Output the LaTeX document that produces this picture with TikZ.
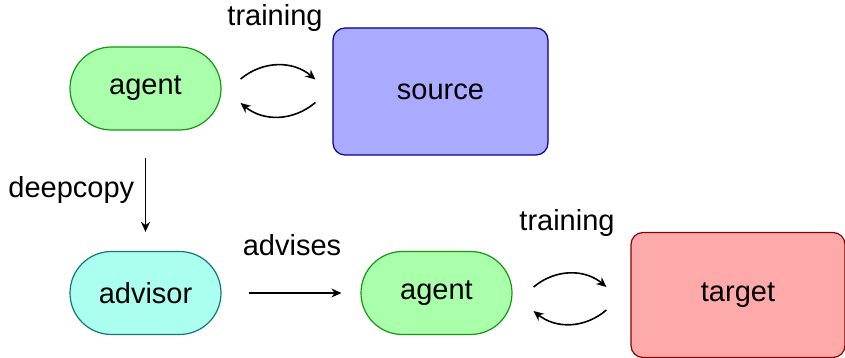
\documentclass[tikz,border=0pt]{standalone}
\usepackage{fontspec}
\setmainfont{Liberation Sans}
\usetikzlibrary{arrows.meta,calc}

\definecolor{agentfill}{HTML}{AAFFAA}
\definecolor{agentline}{HTML}{119911}
\definecolor{sourcefill}{HTML}{AAAAFF}
\definecolor{sourceline}{HTML}{000088}
\definecolor{advisorfill}{HTML}{AAFFEE}
\definecolor{advisorline}{HTML}{117777}
\definecolor{targetfill}{HTML}{FFAAAA}
\definecolor{targetline}{HTML}{880000}

\tikzset{
  pill/.style={rounded corners=20.75pt, minimum width=75.5pt, minimum height=41.5pt, line width=0.6pt},
  envbox/.style={rounded corners=6pt, line width=0.6pt},
  flow/.style={-{Stealth[length=5pt,width=4.5pt]}, line width=0.8pt, shorten <=13.5pt, shorten >=9.5pt},
  cyc/.style={-{Stealth[length=5pt,width=4.5pt]}, line width=0.8pt},
  every node/.style={font=\fontsize{14.5}{17}\selectfont}
}

\begin{document}
\begin{tikzpicture}[x=0.5pt, y=0.5pt]
  \useasboundingbox (0,0) rectangle (845,358);

  \node[pill, fill=agentfill, draw=agentline] (agent1) at (145.5,269.5) {agent};
  \node[envbox, fill=sourcefill, draw=sourceline, minimum width=107.5pt, minimum height=63.5pt] (source) at (440.5,266.5) {source};
  \node[pill, fill=advisorfill, draw=advisorline] (advisor) at (145.5,65) {advisor};
  \node[pill, fill=agentfill, draw=agentline] (agent2) at (436.5,65) {agent};
  \node[envbox, fill=targetfill, draw=targetline, minimum width=107pt, minimum height=62.5pt] (target) at (738,63) {target};

  % top loop
  \draw[cyc] ($(agent1.east)+(19,9.5)$) to[bend left=40] ($(source.west)+(-17,12)$);
  \draw[cyc] ($(source.west)+(-17,-11)$) to[bend left=40] ($(agent1.east)+(19,-14.5)$);
  \node (train1) at (275,340) {training};

  \draw[flow] (agent1) -- (advisor);
  \node[anchor=west, inner sep=0pt] (copylbl) at (8,168) {deepcopy};

  \draw[flow] (advisor) -- (agent2);
  \node (advlbl) at (292,113) {advises};

  % bottom loop
  \draw[cyc] ($(agent2.east)+(21,6)$) to[bend left=40] ($(target.west)+(-24,8)$);
  \draw[cyc] ($(target.west)+(-24,-15)$) to[bend left=40] ($(agent2.east)+(21,-18)$);
  \node (train2) at (567,135) {training};
\end{tikzpicture}
\end{document}
